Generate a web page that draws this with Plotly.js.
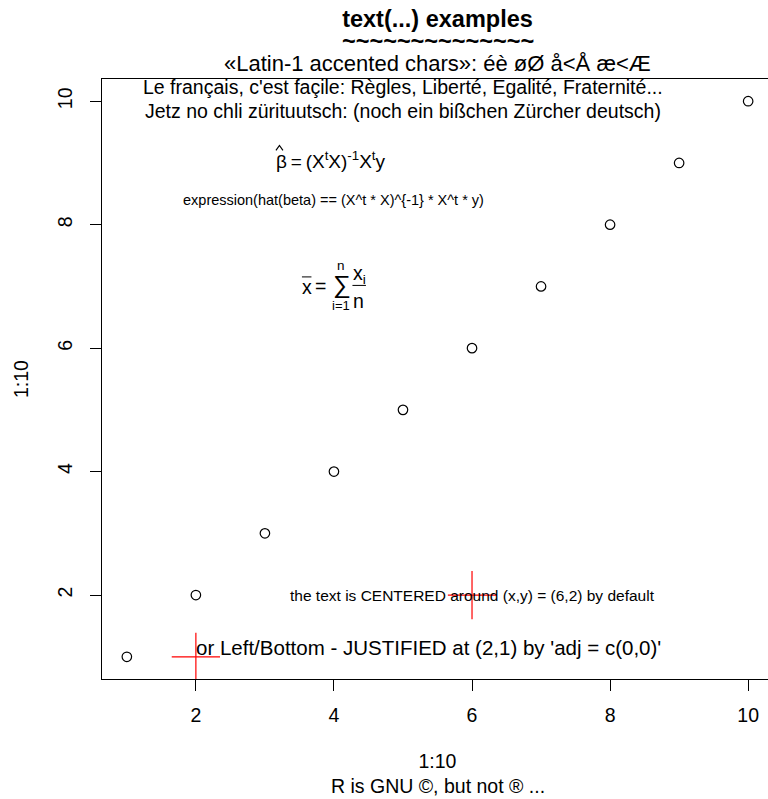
<!DOCTYPE html>
<html><head><meta charset="utf-8">
<script src="https://cdn.plot.ly/plotly-3.0.1.min.js"></script>
<style>html,body{margin:0;padding:0;overflow:hidden;background:#fff}</style>
</head><body><div id="chart" style="width:780px;height:799px"></div>
<script>
const xValues = [1, 2, 3, 4, 5, 6, 7, 8, 9, 10];
const yValues = [1, 2, 3, 4, 5, 6, 7, 8, 9, 10];
const crossX = [6, 2];
const crossY = [2, 1];
const tickValues = [2, 4, 6, 8, 10];
const tickLabels = ['2', '4', '6', '8', '10'];
const axisRange = [0.64, 10.36];
const mainTitle = 'text(...) examples';
const mainTilde = '~~~~~~~~~~~~~~';
const xLabel = '1:10';
const yLabel = '1:10';
const subTitle = 'R is GNU ©, but not ® ...';
const topMargText = '«Latin-1 accented chars»: éè øØ å&lt;Å æ&lt;Æ';
const frenchText = "Le français, c'est façile: Règles, Liberté, Egalité, Fraternité...";
const frenchPos = [5, 10.2];
const germanText = 'Jetz no chli zürituutsch: (noch ein bißchen Zürcher deutsch)';
const germanPos = [5, 9.8];
const betaExpr = 'β\u2009=\u2009(X<sup>t</sup>X)<sup>-1</sup>X<sup>t</sup>y';
const betaPos = [4, 9];
const betaSource = 'expression(hat(beta) == (X^t * X)^{-1} * X^t * y)';
const betaSourcePos = [4, 8.4];
const sumPos = [4, 7];
const centeredText = 'the text is CENTERED around (x,y) = (6,2) by default';
const centeredPos = [6, 2];
const leftText = "or Left/Bottom - JUSTIFIED at (2,1) by 'adj = c(0,0)'";
const leftPos = [2, 1];

const FONT = '"Liberation Sans", Arial, Helvetica, sans-serif';
const base = 19.5;

function ann(text, pos, size, extra) {
  return Object.assign({
    text: text, x: pos[0], y: pos[1], xref: 'x', yref: 'y',
    showarrow: false, xanchor: 'center', yanchor: 'middle',
    font: {family: FONT, size: size, color: '#000'}
  }, extra || {});
}

const annotations = [
  {text: mainTilde, xref: 'paper', yref: 'paper', x: 0.5, y: 1, yanchor: 'middle', yshift: 79 - 41,
   showarrow: false, font: {family: FONT, size: 23.5, color: '#000', weight: 'bold'}},
  {text: topMargText, xref: 'paper', yref: 'paper', x: 0.5, y: 1, yanchor: 'bottom', yshift: 1,
   showarrow: false, font: {family: FONT, size: 22, color: '#000'}},
  {text: subTitle, xref: 'paper', yref: 'paper', x: 0.5, y: 0, yanchor: 'middle', yshift: -107,
   showarrow: false, font: {family: FONT, size: base, color: '#000'}},
  ann(frenchText, frenchPos, base, {yshift: 2}),
  ann(germanText, germanPos, base, {yshift: 3}),
  ann(betaExpr, betaPos, 19, {xanchor: 'left', xshift: -60, yshift: 3}),
  ann(betaSource, betaSourcePos, 14.5),
  ann('x', sumPos, base, {xshift: -27, yshift: -1}),
  ann('=', sumPos, base, {xshift: -13, yshift: 0}),
  ann('∑', sumPos, 25, {xshift: 8, yshift: 2}),
  ann('n', sumPos, 13.5, {xshift: 7.5, yshift: 21}),
  ann('i=1', sumPos, 13, {xshift: 7.5, yshift: -19.5}),
  ann('x<sub>i</sub>', sumPos, base, {xshift: 26, yshift: 12}),
  ann('n', sumPos, base, {xshift: 25, yshift: -15}),
  ann(centeredText, centeredPos, 15.5),
  ann(leftText, leftPos, 20.5, {xanchor: 'left', yanchor: 'bottom', xshift: -2, yshift: -4})
];

const shapes = [
  {type: 'path', xref: 'x', yref: 'y', xsizemode: 'pixel', ysizemode: 'pixel',
   xanchor: betaPos[0], yanchor: betaPos[1], path: 'M-58,12.5 L-54.5,17.5 L-51,12.5',
   line: {color: '#000', width: 1.2}},
  {type: 'line', xref: 'x', yref: 'y', xsizemode: 'pixel', ysizemode: 'pixel',
   xanchor: sumPos[0], yanchor: sumPos[1], x0: -32, x1: -22.5, y0: 9.5, y1: 9.5,
   line: {color: '#000', width: 1}},
  {type: 'line', xref: 'x', yref: 'y', xsizemode: 'pixel', ysizemode: 'pixel',
   xanchor: sumPos[0], yanchor: sumPos[1], x0: 18.5, x1: 32, y0: 1, y1: 1,
   line: {color: '#000', width: 1}}
];

const traces = [
  {x: xValues, y: yValues, type: 'scatter', mode: 'markers',
   marker: {symbol: 'circle-open', size: 9.5, color: '#000', line: {width: 1.2, color: '#000'}}},
  {x: crossX, y: crossY, type: 'scatter', mode: 'markers',
   marker: {symbol: 'cross-thin-open', size: 34.5, color: '#ff0000', line: {width: 1.2, color: '#ff0000'}}}
];

const axisCommon = {
  range: axisRange, tickmode: 'array', tickvals: tickValues, ticktext: tickLabels,
  showgrid: false, zeroline: false, showline: true, mirror: true, linecolor: '#000', linewidth: 1,
  ticks: 'outside', ticklen: 11, tickwidth: 1, tickcolor: '#000',
  tickfont: {family: FONT, size: base, color: '#000'}, automargin: false, fixedrange: true
};

const layout = {
  width: 780, height: 799,
  margin: {l: 102, r: 7, t: 79, b: 120, pad: 0},
  paper_bgcolor: '#fff', plot_bgcolor: '#fff', showlegend: false,
  title: {text: mainTitle, x: 0.5, xref: 'paper', y: 1 - 19 / 799, yref: 'container', yanchor: 'middle',
          font: {family: FONT, size: 23.5, color: '#000', weight: 'bold'}},
  xaxis: Object.assign({}, axisCommon, {ticklabelstandoff: 8,
    title: {text: xLabel, standoff: 28, font: {family: FONT, size: base, color: '#000'}}}),
  yaxis: Object.assign({}, axisCommon, {tickangle: -90, ticklabelstandoff: 10,
    title: {text: yLabel, standoff: 20, font: {family: FONT, size: base, color: '#000'}}}),
  annotations: annotations, shapes: shapes
};

Plotly.newPlot('chart', traces, layout, {displayModeBar: false, staticPlot: true});
</script></body></html>
